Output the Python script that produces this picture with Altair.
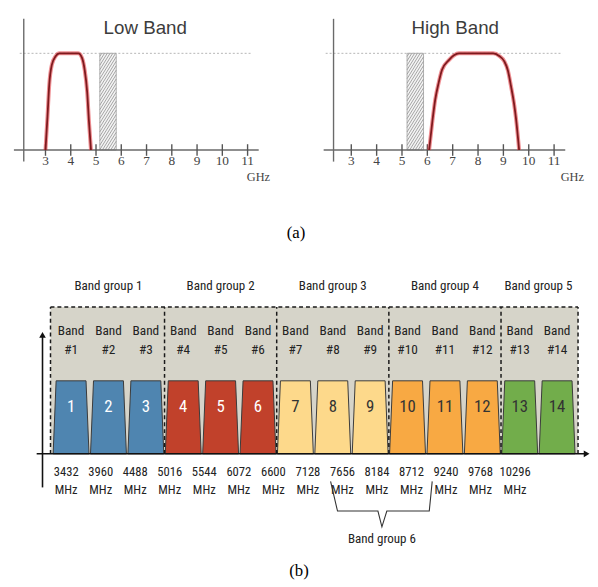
import altair as alt
import pandas as pd

# ---------------- data ----------------
ghz_ticks = [3, 4, 5, 6, 7, 8, 9, 10, 11]

low_ghz = [3.0, 3.08, 3.15, 3.25, 3.4, 3.55, 4.3, 4.45, 4.55, 4.65, 4.72, 4.8]
low_amp = [0, 0.35, 0.68, 0.88, 0.97, 1.0, 1.0, 0.95, 0.83, 0.6, 0.3, 0]
high_ghz = [6.07, 6.2, 6.31, 6.45, 6.58, 6.85, 7.05, 7.25, 8.6, 8.85, 9.03,
            9.18, 9.3, 9.42, 9.5, 9.62]
high_amp = [0, 0.3, 0.52, 0.7, 0.83, 0.93, 0.98, 1.0, 1.0, 0.97, 0.92,
            0.82, 0.66, 0.48, 0.32, 0]
excl_low = [5.15, 5.8]     # hatched (excluded) region in the low band panel
excl_high = [5.2, 5.85]    # hatched (excluded) region in the high band panel

band_ids = list(range(1, 15))
band_group = [1, 1, 1, 2, 2, 2, 3, 3, 3, 4, 4, 4, 5, 5]
group_names = ["Band group 1", "Band group 2", "Band group 3",
               "Band group 4", "Band group 5"]
group_colors = ["#4f85b0", "#c1412b", "#fdd98b", "#f8a943", "#72ad4b"]
group_text = ["white", "white", "#333333", "#333333", "#333333"]
center_mhz = [3432, 3960, 4488, 5016, 5544, 6072, 6600, 7128, 7656,
              8184, 8712, 9240, 9768, 10296]
group6_name = "Band group 6"

# ---------------- helpers ----------------
SERIF = "Liberation Serif, Times New Roman, serif"
SANS = "Liberation Sans, Arial, sans-serif"
NARROW = "Roboto Condensed, Liberation Sans Narrow, Roboto, sans-serif"


def XQ(f, sc):
    return alt.X(f, type="quantitative", scale=sc, axis=None)


def YQ(f, sc):
    return alt.Y(f, type="quantitative", scale=sc, axis=None)


def hatch_rows(x0, x1, px_per_x, px_per_y, step_px=4.5, slope=1.6):
    w = (x1 - x0) * px_per_x
    h = 1.0 * px_per_y
    rows = []
    c = -slope * w
    while c < h:
        u0 = max(0.0, -c / slope)
        u1 = min(w, (h - c) / slope)
        if u1 > u0:
            rows.append(dict(x=x0 + u0 / px_per_x, y=(c + slope * u0) / px_per_y,
                             x2=x0 + u1 / px_per_x, y2=(c + slope * u1) / px_per_y))
        c += step_px
    return pd.DataFrame(rows)


def band_panel(title, cg, ca, excl, xdom, width, yaxis_x, xaxis_rng, dot_rng,
               title_x, ghz_x, px_per_x):
    xs = alt.Scale(domain=xdom, nice=False, zero=False)
    ys = alt.Scale(domain=[-0.357, 1.4286], nice=False, zero=False)
    X = lambda f: XQ(f, xs)
    Y = lambda f: YQ(f, ys)

    dotted = alt.Chart(pd.DataFrame({"x": [dot_rng[0]], "x2": [dot_rng[1]], "y": [1.0]})).mark_rule(
        color="#b5b5b5", strokeDash=[2, 2], strokeWidth=1).encode(x=X("x"), x2="x2", y=Y("y"))
    rect = alt.Chart(pd.DataFrame({"x": [excl[0]], "x2": [excl[1]], "y": [0.0], "y2": [1.0]})).mark_rect(
        fill="#f4f4f4", stroke="#b0b0b0", strokeWidth=1).encode(x=X("x"), x2="x2", y=Y("y"), y2="y2")
    hatch = alt.Chart(hatch_rows(excl[0], excl[1], px_per_x, 98)).mark_rule(
        color="#9a9a9a", strokeWidth=0.9).encode(x=X("x"), x2="x2", y=Y("y"), y2="y2")
    yaxis = alt.Chart(pd.DataFrame({"x": [yaxis_x], "y": [1.357], "y2": [-0.12]})).mark_rule(
        color="#6a6a6a", strokeWidth=1.4).encode(x=X("x"), y=Y("y"), y2="y2")
    xaxis = alt.Chart(pd.DataFrame({"x": [xaxis_rng[0]], "x2": [xaxis_rng[1]], "y": [0.0]})).mark_rule(
        color="#6a6a6a", strokeWidth=1.4).encode(x=X("x"), x2="x2", y=Y("y"))
    tdf = pd.DataFrame({"g": ghz_ticks, "lo": -0.06, "hi": 0.06, "ly": -0.11})
    ticks = alt.Chart(tdf).mark_rule(color="#555555", strokeWidth=1.4).encode(
        x=X("g"), y=Y("lo"), y2="hi")
    tlabels = alt.Chart(tdf).mark_text(font=SERIF, fontSize=13.5, color="#444444",
                                       baseline="middle").encode(
        x=X("g"), y=Y("ly"), text="g:Q")
    ghz = alt.Chart(pd.DataFrame({"x": [ghz_x], "y": [-0.276], "t": ["GHz"]})).mark_text(
        font=SERIF, fontSize=12.5, color="#444444", baseline="middle").encode(
        x=X("x"), y=Y("y"), text="t:N")
    ttl = alt.Chart(pd.DataFrame({"x": [title_x], "y": [1.265], "t": [title]})).mark_text(
        font=SANS, fontSize=19, color="#3c3c3c", baseline="middle").encode(
        x=X("x"), y=Y("y"), text="t:N")
    cdf = pd.DataFrame({"g": cg, "a": ca})
    glow = alt.Chart(cdf).mark_line(color="#e2333b", strokeWidth=4, opacity=0.55,
                                    interpolate="monotone").encode(x=X("g"), y=Y("a"))
    core = alt.Chart(cdf).mark_line(color="#7e1a1e", strokeWidth=1.8,
                                    interpolate="monotone").encode(x=X("g"), y=Y("a"))
    return alt.layer(dotted, rect, hatch, yaxis, xaxis, ticks, tlabels, ghz, ttl,
                     glow, core).properties(width=width, height=175)


low = band_panel("Low Band", low_ghz, low_amp, excl_low, [1.516, 12.84], 290,
                 2.14, [1.75, 11.44], [1.98, 11.16], 6.95, 11.43, 25.6)
high = band_panel("High Band", high_ghz, high_amp, excl_high, [0.743, 12.105], 292,
                  2.30, [1.91, 11.44], [1.99, 11.33], 7.1, 11.72, 25.7)

top = alt.hconcat(low, high, spacing=0).properties(
    title=alt.TitleParams("(a)", orient="bottom", anchor="middle", offset=41, font=SERIF,
                          fontSize=17, fontWeight="normal", color="black"))

# ---------------- bottom panel ----------------
xb = alt.Scale(domain=[-1.187, 14.38], nice=False, zero=False)
xm = alt.Scale(domain=[2542, 11442], nice=False, zero=False)
yb = alt.Scale(domain=[-1.27, 2.486], nice=False, zero=False)
XB = lambda f: XQ(f, xb)
XM = lambda f: XQ(f, xm)
YB = lambda f: YQ(f, yb)

box = alt.Chart(pd.DataFrame({"x": [-0.05], "x2": [14.06], "y": [0.0], "y2": [2.01]})).mark_rect(
    fill="#d6d4c9").encode(x=XB("x"), x2="x2", y=YB("y"), y2="y2")

trap_shape = [(0.02, 0), (0.1, 1), (0.9, 1), (0.98, 0)]
trows = []
for j, b in enumerate(band_ids):
    g = band_group[j]
    for dx, dy in trap_shape:
        trows.append(dict(band=b, x=j + dx, y=dy, y0=0.0, color=group_colors[g - 1]))
traps = alt.Chart(pd.DataFrame(trows)).mark_area(stroke="#3a3a3a", strokeWidth=1).encode(
    x=XB("x"), y=YB("y"), y2="y0", detail="band:N", color=alt.Color("color:N", scale=None))

bdf = pd.DataFrame({
    "band": band_ids,
    "cx": [j + 0.5 for j in range(len(band_ids))],
    "num": [str(b) for b in band_ids],
    "hash": ["#%d" % b for b in band_ids],
    "word": ["Band"] * len(band_ids),
    "tcol": [group_text[g - 1] for g in band_group],
    "y_word": 1.68, "y_hash": 1.415, "y_num": 0.635,
})
word = alt.Chart(bdf).mark_text(font=NARROW, fontSize=13.5, color="#222222").encode(
    x=XB("cx"), y=YB("y_word"), text="word:N")
hashl = alt.Chart(bdf).mark_text(font=NARROW, fontSize=13.5, color="#222222").encode(
    x=XB("cx"), y=YB("y_hash"), text="hash:N")
nums = alt.Chart(bdf).mark_text(font=NARROW, fontSize=17).encode(
    x=XB("cx"), y=YB("y_num"), text="num:N", color=alt.Color("tcol:N", scale=None))

gstart = {}
gend = {}
for j, g in enumerate(band_group):
    gstart.setdefault(g, j)
    gend[g] = j + 1
gdf = pd.DataFrame({"name": group_names,
                    "cx": [(gstart[g] + gend[g]) / 2 for g in range(1, 6)],
                    "y": 2.30})
glabels = alt.Chart(gdf).mark_text(font=NARROW, fontSize=13.2, color="#222222").encode(
    x=XB("cx"), y=YB("y"), text="name:N")

dividers = [gend[g] for g in range(1, 5)]
vdf = pd.DataFrame({"x": [-0.05] + dividers + [14.06], "y": 0.0, "y2": 2.01})
vdash = alt.Chart(vdf).mark_rule(color="#1a1a1a", strokeDash=[4, 3], strokeWidth=1.5).encode(
    x=XB("x"), y=YB("y"), y2="y2")
hdash = alt.Chart(pd.DataFrame({"x": [-0.05], "x2": [14.06], "y": [2.01]})).mark_rule(
    color="#1a1a1a", strokeDash=[4, 3], strokeWidth=1.5).encode(x=XB("x"), x2="x2", y=YB("y"))

xaxis_b = alt.Chart(pd.DataFrame({"x": [-0.42], "x2": [14.28], "y": [0.0]})).mark_rule(
    color="#111111", strokeWidth=1.6).encode(x=XB("x"), x2="x2", y=YB("y"))
yaxis_b = alt.Chart(pd.DataFrame({"x": [-0.264], "y": [1.6], "y2": [-0.46]})).mark_rule(
    color="#111111", strokeWidth=1.6).encode(x=XB("x"), y=YB("y"), y2="y2")
arrows = alt.Chart(pd.DataFrame({"x": [-0.264, 14.29], "y": [1.63, 0.0],
                                 "shape": ["triangle-up", "triangle-right"]})).mark_point(
    filled=True, color="#111111", size=45, opacity=1).encode(
    x=XB("x"), y=YB("y"), shape=alt.Shape("shape:N", scale=None))

fdf = pd.DataFrame({"mhz": center_mhz, "t": [str(m) for m in center_mhz],
                    "u": "MHz", "y1": -0.243, "y2": -0.49})
fnum = alt.Chart(fdf).mark_text(font=NARROW, fontSize=12.8, color="#222222").encode(
    x=XM("mhz"), y=YB("y1"), text="t:N")
funit = alt.Chart(fdf).mark_text(font=NARROW, fontSize=12.8, color="#222222").encode(
    x=XM("mhz"), y=YB("y2"), text="u:N")

# brace under the labels of band group 6 (bands 9-11)
brace_mhz = [7475, 7581, 8199, 8260, 8335, 8984, 9029]
brace_y = [-0.378, -0.784, -0.784, -1.0, -0.784, -0.784, -0.378]
brdf = pd.DataFrame({"mhz": brace_mhz, "y": brace_y, "o": list(range(len(brace_mhz)))})
brace = alt.Chart(brdf).mark_line(color="#333333", strokeWidth=1.1).encode(
    x=XM("mhz"), y=YB("y"), order="o:Q")
g6 = alt.Chart(pd.DataFrame({"mhz": [8260], "y": [-1.165], "t": [group6_name]})).mark_text(
    font=NARROW, fontSize=13.2, color="#222222").encode(x=XM("mhz"), y=YB("y"), text="t:N")

bottom = alt.layer(box, traps, vdash, hdash, word, hashl, nums, glabels, xaxis_b,
                   yaxis_b, arrows, fnum, funit, brace, g6).resolve_scale(
    x="independent").properties(
    width=590, height=278,
    title=alt.TitleParams("(b)", orient="bottom", anchor="middle", offset=17, font=SERIF,
                          fontSize=17, fontWeight="normal", color="black"))

chart = alt.vconcat(top, bottom, spacing=32).properties(padding=0).configure_view(
    stroke=None).configure_text(align="center", baseline="middle")

chart.save("out.html", embed_options={"renderer": "svg", "actions": False})
